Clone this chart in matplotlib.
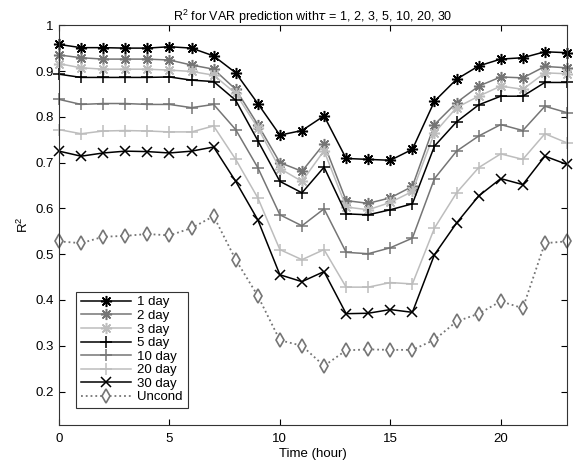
import numpy as np
import matplotlib
matplotlib.use("Agg")
import matplotlib.pyplot as plt

plt.rcParams['font.family'] = ['Liberation Sans', 'DejaVu Sans']
plt.rcParams['mathtext.fontset'] = 'custom'
plt.rcParams['mathtext.rm'] = 'Liberation Sans'
plt.rcParams['mathtext.it'] = 'DejaVu Sans:italic'

hours = list(range(24))

one_day = [0.958, 0.951, 0.951, 0.950, 0.950, 0.953, 0.950, 0.933, 0.896, 0.829, 0.760, 0.770,
           0.802, 0.709, 0.707, 0.705, 0.729, 0.834, 0.882, 0.911, 0.926, 0.929, 0.942, 0.940]
two_day = [0.935, 0.929, 0.926, 0.926, 0.926, 0.924, 0.913, 0.904, 0.860, 0.783, 0.700, 0.681,
           0.741, 0.617, 0.611, 0.623, 0.648, 0.783, 0.831, 0.867, 0.887, 0.885, 0.910, 0.907]
three_day = [0.916, 0.907, 0.904, 0.904, 0.904, 0.902, 0.899, 0.891, 0.851, 0.776, 0.687, 0.659,
             0.726, 0.603, 0.597, 0.613, 0.637, 0.765, 0.820, 0.845, 0.867, 0.860, 0.896, 0.894]
five_day = [0.893, 0.886, 0.886, 0.886, 0.886, 0.887, 0.880, 0.877, 0.836, 0.748, 0.659, 0.634,
            0.690, 0.588, 0.586, 0.597, 0.610, 0.736, 0.789, 0.826, 0.845, 0.845, 0.875, 0.875]
ten_day = [0.838, 0.827, 0.829, 0.829, 0.827, 0.827, 0.820, 0.827, 0.772, 0.689, 0.586, 0.562,
           0.599, 0.504, 0.501, 0.514, 0.535, 0.665, 0.725, 0.758, 0.783, 0.770, 0.823, 0.809]
twenty_day = [0.772, 0.763, 0.769, 0.770, 0.769, 0.767, 0.767, 0.780, 0.707, 0.623, 0.510, 0.488,
              0.510, 0.428, 0.428, 0.438, 0.435, 0.557, 0.634, 0.689, 0.719, 0.707, 0.763, 0.743]
thirty_day = [0.725, 0.714, 0.721, 0.725, 0.724, 0.721, 0.725, 0.734, 0.659, 0.575, 0.455, 0.440,
              0.462, 0.370, 0.371, 0.379, 0.373, 0.499, 0.568, 0.627, 0.665, 0.652, 0.714, 0.696]
uncond = [0.528, 0.524, 0.538, 0.540, 0.544, 0.541, 0.557, 0.583, 0.488, 0.409, 0.312, 0.300,
          0.256, 0.290, 0.292, 0.291, 0.291, 0.313, 0.353, 0.370, 0.397, 0.382, 0.524, 0.528]

labels = ['1 day', '2 day', '3 day', '5 day', '10 day', '20 day', '30 day', 'Uncond']

black = 'black'
dark = '#757575'
light = '#bdbdbd'
star = (8, 2, 0)

fig = plt.figure(figsize=(5.73, 4.67), dpi=100)
ax = fig.add_axes([0.103, 0.090, 0.8865, 0.856])

# (values, colour, marker, marker size)
series = [
    (one_day, black, star, 8),
    (two_day, dark, star, 8),
    (three_day, light, star, 8),
    (five_day, black, '+', 9),
    (ten_day, dark, '+', 9),
    (twenty_day, light, '+', 9),
    (thirty_day, black, 'x', 7.5),
]

for (vals, col, mk, ms), lab in zip(series, labels):
    ax.plot(hours, vals, color=col, marker=mk, markersize=ms, markeredgewidth=1.1,
            linewidth=1.1, label=lab, clip_on=False)

ax.plot(hours, uncond, color=dark, linestyle=':', linewidth=1.3, marker='d',
        markersize=7.5, markerfacecolor='white', markeredgecolor=dark, markeredgewidth=1.2,
        label=labels[7], clip_on=False)

ax.set_xlim(0, 23)
ax.set_ylim(0.127, 1.0)
ax.set_xticks([0, 5, 10, 15, 20])
ax.set_yticks([0.2, 0.3, 0.4, 0.5, 0.6, 0.7, 0.8, 0.9, 1.0])
ax.set_yticklabels(['0.2', '0.3', '0.4', '0.5', '0.6', '0.7', '0.8', '0.9', '1'])
ax.tick_params(direction='in', top=True, right=True, length=4, labelsize=9.5, pad=4)
ax.tick_params(axis='x', pad=6)
for s in ax.spines.values():
    s.set_color('#333333')
    s.set_linewidth(0.8)

ax.set_xlabel('Time (hour)', fontsize=9.5, labelpad=2)
ax.set_ylabel('R$^2$', fontsize=9.5, labelpad=3)
ax.set_title(r'R$^2$ for VAR prediction with$\tau$ = 1, 2, 3, 5, 10, 20, 30', fontsize=9, pad=3)

leg = ax.legend(loc='lower left', bbox_to_anchor=(0.0335, 0.0425), borderaxespad=0,
                fontsize=9.5, handlelength=3.8, handletextpad=0.5, labelspacing=0.1,
                borderpad=0.35, fancybox=False, framealpha=1, edgecolor='#333333')
leg.get_frame().set_linewidth(0.8)

fig.savefig('out.png', dpi=100)
